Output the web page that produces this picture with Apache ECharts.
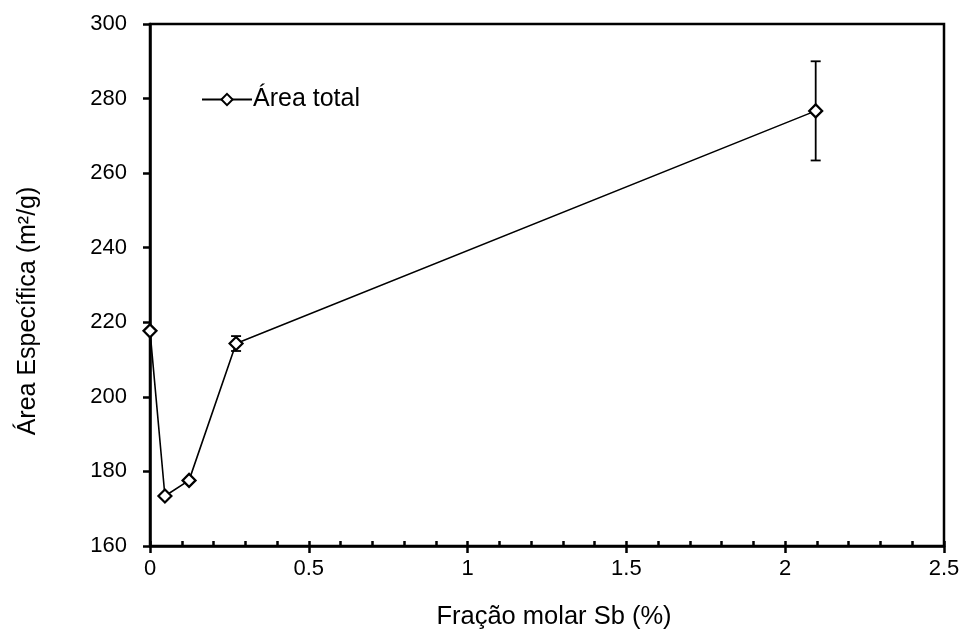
<!DOCTYPE html>
<html>
<head>
<meta charset="utf-8">
<script src="https://cdn.jsdelivr.net/npm/echarts@6/dist/echarts.min.js"></script>
<style>
  html, body { margin: 0; padding: 0; background: #fff; }
  #chart { width: 966px; height: 635px; }
</style>
</head>
<body>
<div id="chart"></div>
<script>
// Área específica vs fração molar de Sb
const fracao = [0, 0.047, 0.123, 0.271, 2.096];
const area = [217.7, 173.4, 177.6, 214.3, 276.7];
const erro = [0, 0, 0, 2.0, 13.3];
const xTicks = ['0', '0.5', '1', '1.5', '2', '2.5'];
const yTitle = 'Área Específica (m²/g)';
const xTitle = 'Fração molar Sb (%)';

const font = 'Liberation Sans, Arial, sans-serif';

const myChart = echarts.init(document.getElementById('chart'));

const pontos = fracao.map((x, i) => [x, area[i]]);
const barras = fracao.map((x, i) => [x, area[i] - erro[i], area[i] + erro[i]]).filter((d, i) => erro[i] > 0);

myChart.setOption({
  animation: false,
  grid: {
    left: 150, right: 22, top: 24, bottom: 87,
    show: true, borderColor: '#000', borderWidth: 2.5, containLabel: false
  },
  graphic: [{
    type: 'text',
    x: 28, y: 311,
    rotation: Math.PI / 2,
    style: {
      text: yTitle, fontFamily: font, fontSize: 25, fill: '#000',
      align: 'center', verticalAlign: 'middle'
    }
  }],
  legend: {
    left: 196, top: 82,
    data: ['Área total'],
    itemWidth: 50, itemHeight: 14, itemGap: 2,
    textStyle: { fontFamily: font, fontSize: 25, color: '#000', padding: [0, 0, 0, -4] }
  },
  xAxis: [{
    type: 'value', min: 0, max: 2.5, interval: 0.5,
    name: xTitle, nameLocation: 'middle', nameGap: 58,
    nameTextStyle: { fontFamily: font, fontSize: 25.5, color: '#000', padding: [0, 0, 0, 14] },
    axisLine: { show: true, lineStyle: { color: '#000', width: 2.5 } },
    axisTick: { show: true, inside: false, length: 7, lineStyle: { color: '#000', width: 2.5 } },
    axisLabel: { fontFamily: font, fontSize: 22, color: '#000', margin: 12,
      formatter: (v) => xTicks[Math.round(v / 0.5)] },
    splitLine: { show: false }
  }, {
    type: 'value', min: 0, max: 2.5, interval: 0.1, position: 'bottom',
    axisLine: { show: false },
    axisTick: { show: true, inside: true, length: 5, lineStyle: { color: '#000', width: 2.5 } },
    axisLabel: { show: false },
    splitLine: { show: false }
  }],
  yAxis: {
    type: 'value', min: 160, max: 300, interval: 20,
    axisLine: { show: true, lineStyle: { color: '#000', width: 2.5 } },
    axisTick: { show: true, inside: false, length: 7, lineStyle: { color: '#000', width: 2.5 } },
    axisLabel: { fontFamily: font, fontSize: 22, color: '#000', margin: 23 },
    splitLine: { show: false }
  },
  series: [{
    name: 'erro',
    type: 'custom',
    xAxisIndex: 0,
    z: 3,
    renderItem: function (params, api) {
      const x = api.value(0);
      const lo = api.coord([x, api.value(1)]);
      const hi = api.coord([x, api.value(2)]);
      const w = 5;
      const style = { stroke: '#000', lineWidth: 1.8 };
      return {
        type: 'group',
        children: [
          { type: 'line', shape: { x1: lo[0], y1: lo[1], x2: hi[0], y2: hi[1] }, style: style },
          { type: 'line', shape: { x1: lo[0] - w, y1: lo[1], x2: lo[0] + w, y2: lo[1] }, style: style },
          { type: 'line', shape: { x1: hi[0] - w, y1: hi[1], x2: hi[0] + w, y2: hi[1] }, style: style }
        ]
      };
    },
    data: barras
  }, {
    name: 'Área total',
    type: 'line',
    xAxisIndex: 0,
    z: 4,
    data: pontos,
    symbol: 'diamond',
    symbolSize: 13,
    lineStyle: { color: '#000', width: 1.6 },
    itemStyle: { color: '#fff', borderColor: '#000', borderWidth: 2.2 }
  }]
});
</script>
</body>
</html>
